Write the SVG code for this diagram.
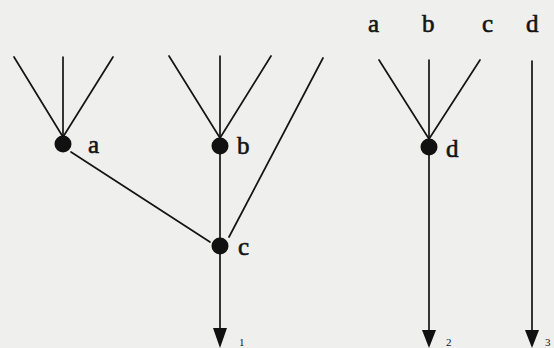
<svg xmlns="http://www.w3.org/2000/svg" width="554" height="348" viewBox="0 0 554 348">
<style>
.e{stroke:#141414;stroke-width:1.7;fill:none;stroke-linecap:round}
.dot{fill:#111}
.t{font-family:"Liberation Serif","DejaVu Serif",serif;font-size:25px;fill:#141414;stroke:#141414;stroke-width:0.6}
.s{font-family:"Liberation Serif","DejaVu Serif",serif;font-size:11px;fill:#141414}
.ah{fill:#111}
</style>
<rect width="554" height="348" fill="#efefed"/>
<g id="connectors">
<line class="e" x1="14" y1="57" x2="63" y2="137"/>
<line class="e" x1="63" y1="57" x2="63" y2="137"/>
<line class="e" x1="113" y1="57" x2="63" y2="137"/>
<line class="e" x1="169" y1="56" x2="220" y2="138"/>
<line class="e" x1="220" y1="56" x2="220" y2="138"/>
<line class="e" x1="271" y1="56" x2="220" y2="138"/>
<line class="e" x1="323" y1="58" x2="229" y2="237"/>
<line class="e" x1="71" y1="152" x2="210" y2="242"/>
<line class="e" x1="220" y1="146" x2="220" y2="330"/>
<polygon class="ah" points="213,328 227,328 220,348"/>
<line class="e" x1="429" y1="60" x2="429" y2="139"/>
<line class="e" x1="379" y1="60" x2="429" y2="139"/>
<line class="e" x1="480" y1="60" x2="429" y2="139"/>
<line class="e" x1="429" y1="147" x2="429" y2="332"/>
<polygon class="ah" points="422,330 436,330 429,348"/>
<line class="e" x1="532" y1="61" x2="532" y2="332"/>
<polygon class="ah" points="525,330 539,330 532,348"/>
</g>
<g id="node-a"><circle class="dot" cx="63" cy="144" r="8.5"/><text class="t" x="88" y="153">a</text></g>
<g id="node-b"><circle class="dot" cx="220" cy="146" r="8.5"/><text class="t" x="237" y="154">b</text></g>
<g id="node-c"><circle class="dot" cx="220" cy="246" r="8.5"/><text class="t" x="238" y="255">c</text></g>
<g id="node-d"><circle class="dot" cx="429" cy="147" r="8.5"/><text class="t" x="446" y="157">d</text></g>
<g id="top-labels">
<text class="t" x="368" y="32">a</text>
<text class="t" x="422" y="32">b</text>
<text class="t" x="482" y="32">c</text>
<text class="t" x="526" y="32">d</text>
</g>
<g id="out-labels">
<text class="s" x="239" y="346">1</text>
<text class="s" x="446" y="346">2</text>
<text class="s" x="545" y="346">3</text>
</g>
</svg>
